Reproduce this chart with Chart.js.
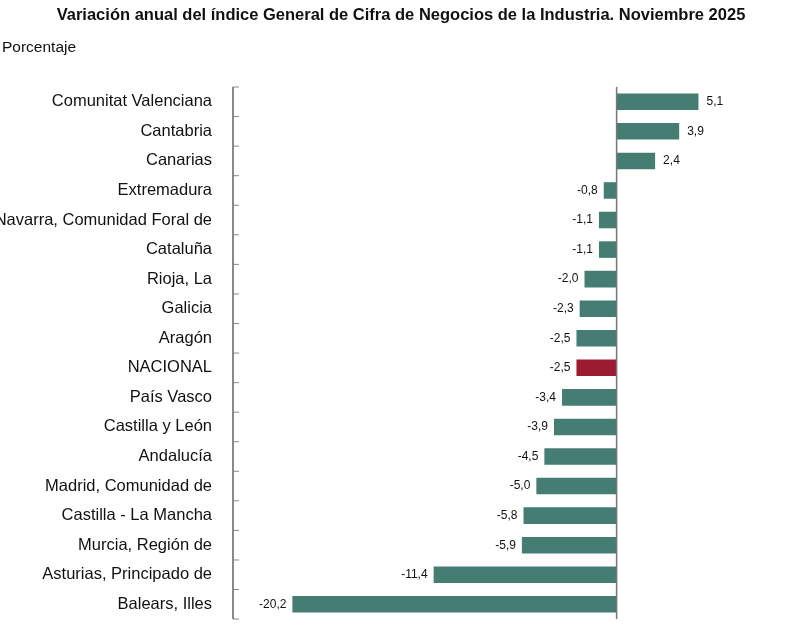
<!DOCTYPE html>
<html>
<head>
<meta charset="utf-8">
<script src="https://cdn.jsdelivr.net/npm/chart.js@4"></script>
<style>
  body { margin: 0; background: #fff; }
</style>
</head>
<body>
<canvas id="chart" width="803" height="642"></canvas>
<script>
// Data
const regions = ['Comunitat Valenciana', 'Cantabria', 'Canarias', 'Extremadura',
  'Navarra, Comunidad Foral de', 'Cataluña', 'Rioja, La', 'Galicia', 'Aragón',
  'NACIONAL', 'País Vasco', 'Castilla y León', 'Andalucía', 'Madrid, Comunidad de',
  'Castilla - La Mancha', 'Murcia, Región de', 'Asturias, Principado de', 'Balears, Illes'];
const variation = [5.1, 3.9, 2.4, -0.8, -1.1, -1.1, -2.0, -2.3, -2.5, -2.5, -3.4, -3.9,
  -4.5, -5.0, -5.8, -5.9, -11.4, -20.2];

const green = '#457d73';
const red = '#9b1b30';
const font = "'Liberation Sans', Arial, sans-serif";

// Value labels, zero line, axis ticks between categories, titles
const extras = {
  id: 'extras',
  afterDatasetsDraw(chart) {
    const ctx = chart.ctx;
    const x = chart.scales.x, y = chart.scales.y;
    const area = chart.chartArea;
    ctx.save();
    // zero line
    const x0 = x.getPixelForValue(0);
    ctx.strokeStyle = '#777';
    ctx.lineWidth = 1.5;
    ctx.beginPath();
    ctx.moveTo(x0, area.top);
    ctx.lineTo(x0, area.bottom);
    ctx.stroke();
    // left axis with small ticks between categories
    ctx.strokeStyle = '#888';
    ctx.lineWidth = 2;
    ctx.beginPath();
    ctx.moveTo(area.left, area.top);
    ctx.lineTo(area.left, area.bottom);
    ctx.stroke();
    ctx.lineWidth = 1;
    const step = (y.getPixelForValue(1) - y.getPixelForValue(0));
    for (let i = 0; i <= regions.length; i++) {
      const py = y.getPixelForValue(i) - step / 2;
      ctx.beginPath();
      ctx.moveTo(area.left, py);
      ctx.lineTo(area.left + 6, py);
      ctx.stroke();
    }
    // value labels
    ctx.fillStyle = '#111';
    ctx.font = '12px ' + font;
    ctx.textBaseline = 'middle';
    variation.forEach((v, i) => {
      const px = x.getPixelForValue(v);
      const py = y.getPixelForValue(i);
      const txt = v.toFixed(1).replace('.', ',');
      if (v >= 0) { ctx.textAlign = 'left'; ctx.fillText(txt, px + 8, py); }
      else { ctx.textAlign = 'right'; ctx.fillText(txt, px - 6, py); }
    });
    // titles
    ctx.textAlign = 'center';
    ctx.textBaseline = 'middle';
    ctx.font = 'bold 16.5px ' + font;
    ctx.fillText('Variación anual del índice General de Cifra de Negocios de la Industria. Noviembre 2025', 401, 15);
    ctx.textAlign = 'left';
    ctx.font = '15.5px ' + font;
    ctx.fillText('Porcentaje', 2, 48);
    ctx.restore();
  }
};

new Chart(document.getElementById('chart'), {
  type: 'bar',
  data: {
    labels: regions,
    datasets: [{
      data: variation,
      backgroundColor: regions.map(r => r === 'NACIONAL' ? red : green),
      categoryPercentage: 1,
      barPercentage: 0.56
    }]
  },
  options: {
    indexAxis: 'y',
    responsive: false,
    animation: false,
    layout: { padding: { top: 87, right: 58, bottom: 2, left: 0 } },
    plugins: { legend: { display: false }, tooltip: { enabled: false } },
    scales: {
      x: {
        min: -23.9, max: 8,
        display: false,
        grid: { display: false }
      },
      y: {
        grid: { display: false },
        border: { display: false },
        afterFit(scale) { scale.width = 233; },
        ticks: { color: '#111', font: { family: font, size: 16.5 }, padding: 13 }
      }
    }
  },
  plugins: [extras]
});
</script>
</body>
</html>
